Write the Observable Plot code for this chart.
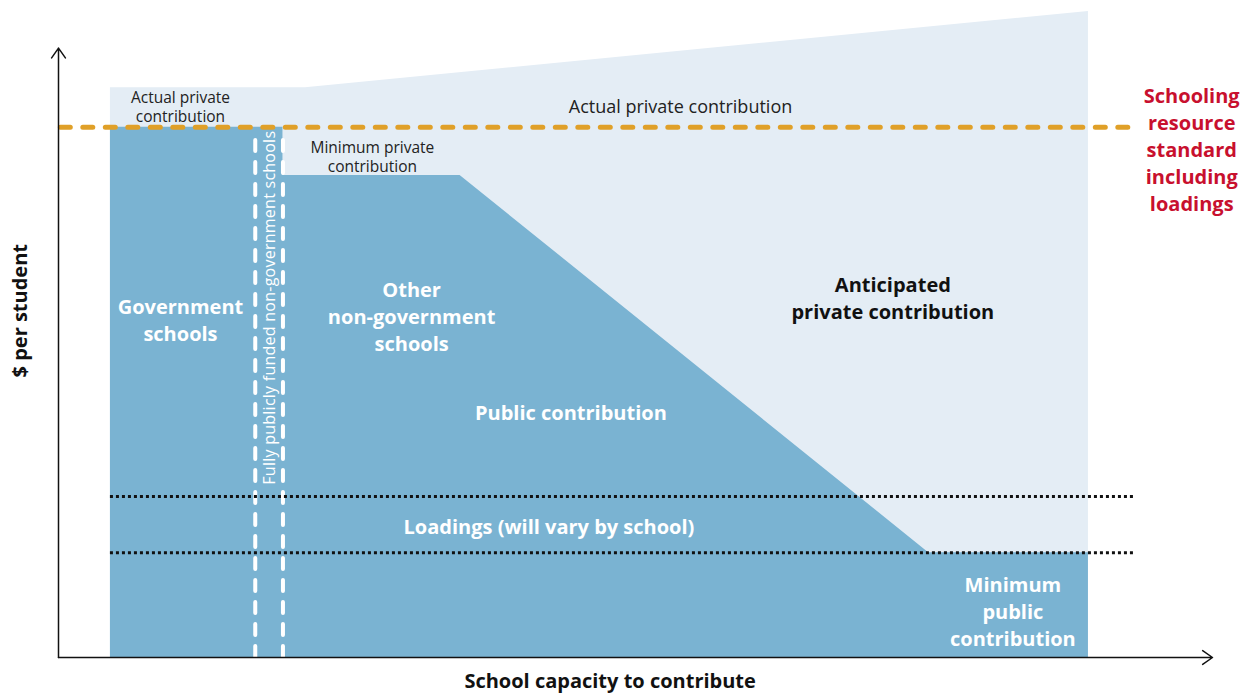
<!DOCTYPE html>
<html>
<head>
<meta charset="utf-8">
<script src="https://cdn.jsdelivr.net/npm/d3@7"></script>
<script src="https://cdn.jsdelivr.net/npm/@observablehq/plot@0.6"></script>
<style>
  html, body { margin: 0; padding: 0; background: #fff; }
  #chart { width: 1252px; height: 695px; }
</style>
</head>
<body>
<div id="chart"></div>
<script>
// Conceptual data (abstract units: capacity 0–100, $ per student 0–106)
const privateCapacity = [4.5, 21.4, 89.25];
const privateAmount   = [93.5, 93.5, 106];

const publicCapacity = [4.5, 19.45, 19.45, 34.8, 75.4, 89.25];
const publicAmount   = [87, 87, 79.1, 79.1, 17.2, 17.2];

const standardLevel = [87];
const loadingLevels = [26.4, 17.2];
const fullyFundedBounds = [17.05, 19.45];

// Annotations (text, in data units)
const greyLabels = [
  {x: 10.57, y: 90.4, text: "Actual private\ncontribution", size: 15.5},
  {x: 53.9, y: 90.4, text: "Actual private contribution", size: 18},
  {x: 27.2, y: 82.2, text: "Minimum private\ncontribution", size: 15.5}
];
const whiteLabels = [
  {x: 10.57, y: 55.6, text: "Government\nschools"},
  {x: 30.6, y: 56.1, text: "Other\nnon-government\nschools"},
  {x: 44.4, y: 40.4, text: "Public contribution"},
  {x: 42.5, y: 21.7, text: "Loadings (will vary by school)"},
  {x: 82.7, y: 7.7, text: "Minimum\npublic\ncontribution"}
];
const darkLabels = [
  {x: 72.3, y: 59.1, text: "Anticipated\nprivate contribution"}
];
const standardLabel = [{x: 98.2, y: 83.5, text: "Schooling\nresource\nstandard\nincluding\nloadings"}];
const verticalText = "Fully publicly funded non-government schools";
const verticalLabel = [{x: 18.3, y: 57.4, text: verticalText}];
const yTitle = [{x: -3.3, y: 56.9, text: "$ per student"}];
const xTitle = [{x: 47.8, y: -4.0, text: "School capacity to contribute"}];

const axesArrows = [
  {x1: 0, y1: 0, x2: 0, y2: 100},
  {x1: 0, y1: 0, x2: 100, y2: 0}
];

const DARK = "#7ab3d2", LIGHT = "#e4edf5", ORANGE = "#e0a028", RED = "#c8102e";

const chart = Plot.plot({
  width: 1252,
  height: 695,
  marginLeft: 58,
  marginRight: 40,
  marginTop: 11,
  marginBottom: 38,
  x: {domain: [0, 100], axis: null},
  y: {domain: [0, 106], axis: null},
  style: {fontFamily: "'Open Sans', Roboto, sans-serif", background: "#fff"},
  marks: [
    Plot.areaY(privateAmount, {x: privateCapacity, y1: 0, y2: privateAmount, fill: LIGHT, curve: "linear"}),
    Plot.areaY(publicAmount, {x: publicCapacity, y1: 0, y2: publicAmount, fill: DARK, curve: "linear"}),
    Plot.ruleX(fullyFundedBounds, {x: d => d, y1: 0, y2: 86.3, stroke: "#fff", strokeWidth: 4, strokeDasharray: "11,11", strokeLinecap: "round"}),
    Plot.ruleY(loadingLevels, {y: d => d, x1: 4.5, x2: 93.3, stroke: "#111", strokeWidth: 3, strokeDasharray: "3,3"}),
    Plot.ruleY(standardLevel, {y: d => d, x1: 0.2, x2: 92.8, stroke: ORANGE, strokeWidth: 5, strokeDasharray: "10,12.5", strokeLinecap: "round"}),
    Plot.arrow(axesArrows, {x1: "x1", y1: "y1", x2: "x2", y2: "y2", stroke: "#111", strokeWidth: 1.5, headLength: 12, headAngle: 70}),
    Plot.text(greyLabels, {x: "x", y: "y", text: "text", fontSize: d => d.size, fill: "#222", lineHeight: 1.18}),
    Plot.text(whiteLabels, {x: "x", y: "y", text: "text", fontSize: 20, fontWeight: "bold", fill: "#fff", lineHeight: 1.35}),
    Plot.text(darkLabels, {x: "x", y: "y", text: "text", fontSize: 20, fontWeight: "bold", fill: "#111", lineHeight: 1.35}),
    Plot.text(standardLabel, {x: "x", y: "y", text: "text", fontSize: 20, fontWeight: "bold", fill: RED, lineHeight: 1.35}),
    Plot.text(verticalLabel, {x: "x", y: "y", text: "text", fontSize: 16, fill: "#fff", rotate: -90}),
    Plot.text(yTitle, {x: "x", y: "y", text: "text", fontSize: 20, fontWeight: "bold", fill: "#111", rotate: -90}),
    Plot.text(xTitle, {x: "x", y: "y", text: "text", fontSize: 20, fontWeight: "bold", fill: "#111"})
  ]
});
d3.select(chart).selectAll("text")
  .filter(function() { return this.textContent === verticalText; })
  .style("letter-spacing", "0.25px");
document.getElementById("chart").appendChild(chart);
</script>
</body>
</html>
